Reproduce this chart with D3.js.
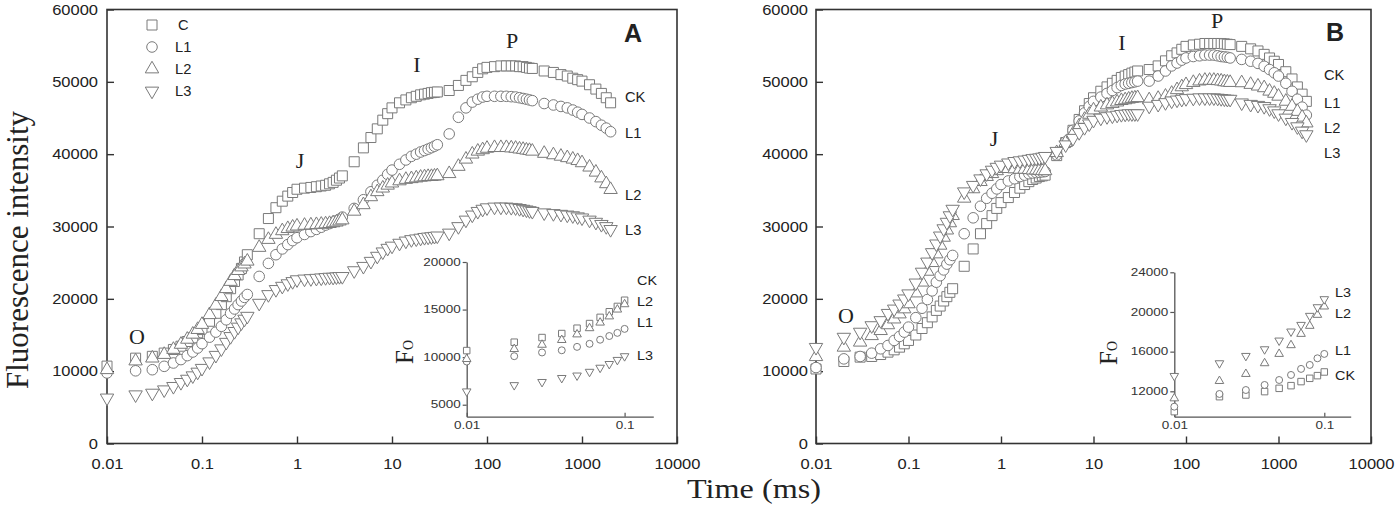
<!DOCTYPE html>
<html>
<head>
<meta charset="utf-8">
<script src="https://cdn.jsdelivr.net/npm/d3@7"></script>
<style>
  body { margin: 0; background: #fff; }
  svg { display: block; }
</style>
</head>
<body>
<div id="chart"></div>
<script>
// sampling times of the OJIP transients (ms)
const timeMs = [
  0.01, 0.02, 0.03, 0.04, 0.05, 0.06, 0.07, 0.08, 0.09, 0.1,
  0.12, 0.14, 0.16, 0.18, 0.2, 0.22, 0.24, 0.26, 0.28, 0.3,
  0.4, 0.5, 0.6, 0.7, 0.8, 0.9, 1, 1.2, 1.4, 1.6, 1.8, 2, 2.2, 2.4, 2.6, 2.8, 3,
  4, 5, 6, 7, 8, 9, 10, 12, 14, 16, 18, 20, 22, 24, 26, 28, 30,
  40, 50, 60, 70, 80, 90, 100, 120, 140, 160, 180, 200, 220, 240, 260, 280, 300,
  400, 500, 600, 700, 800, 900, 1000, 1200, 1400, 1600, 1800, 2000
];

// panel A
const ckA = [
  10700, 11800, 12050, 12500, 13000, 13450, 14100, 14600, 15300, 15750,
  16900, 18000, 19200, 20300, 21400, 22400, 23300, 24200, 25100, 26100,
  29000, 31100, 32600, 33500, 34200, 34700, 35150, 35300, 35400, 35500, 35600, 35700, 35900, 36100, 36400, 36700, 37000,
  38950, 40870, 42300, 43500, 44700, 45600, 46400, 47100, 47500, 47800, 48000, 48200, 48300, 48400, 48500, 48550, 48600,
  48800, 49500, 50200, 50700, 51300, 51800, 52000, 52100, 52200, 52200, 52200, 52200, 52100, 52100, 52000, 51900, 51850,
  51500, 51300, 51000, 50800, 50500, 50300, 50100, 49600, 49000, 48400, 47800, 47100
];
const l1A = [
  9750, 10050, 10200, 10670, 11130, 11600, 12150, 12650, 13200, 13800,
  14700, 15400, 16200, 17100, 18000, 18600, 19200, 19700, 20200, 20600,
  23100, 24900, 26100, 26900, 27500, 28050, 28450, 28900, 29300, 29600, 29900, 30200, 30400, 30600, 30800, 31000, 31300,
  32500, 33700, 34800, 35700, 36400, 37200, 37800, 38600, 39200, 39700, 40000, 40300, 40500, 40700, 40900, 41100, 41300,
  42800, 45100, 46400, 47200, 47600, 47900, 48000, 48000, 48000, 48000, 47950, 47900, 47800, 47700, 47600, 47500, 47400,
  47000, 46800, 46600, 46400, 46100, 45800, 45500, 45000, 44500, 44000, 43600, 43100
];
const l2A = [
  10200, 11400, 11800, 12300, 13000, 13700, 14400, 15100, 15750, 16450,
  17800, 19100, 20300, 21400, 22400, 23200, 23900, 24400, 24800, 25200,
  27100, 28200, 28900, 29400, 29700, 29900, 30050, 30150, 30200, 30250, 30300, 30350, 30400, 30500, 30600, 30750, 30900,
  32100, 33000, 34100, 34800, 35300, 35700, 36000, 36300, 36500, 36600, 36700, 36800, 36850, 36900, 36900, 36950, 37000,
  37300, 38300, 39300, 40000, 40400, 40600, 40800, 40900, 40900, 40900, 40850, 40800, 40700, 40650, 40550, 40500, 40400,
  40100, 39900, 39700, 39500, 39300, 39100, 38800, 38200, 37500, 36700, 35900, 35100
];
const l3A = [
  6300, 6740, 6970, 7430, 7900, 8450, 8900, 9370, 9880, 10400,
  11300, 12200, 13100, 14000, 14800, 15500, 16100, 16700, 17200, 17600,
  19400, 20600, 21300, 21750, 22100, 22400, 22650, 22750, 22800, 22850, 22900, 22950, 23000, 23000, 23050, 23100, 23100,
  23900, 24500, 25200, 25900, 26500, 27000, 27300, 27700, 28000, 28200, 28300, 28400, 28500, 28550, 28600, 28650, 28700,
  29100, 30000, 30900, 31600, 32100, 32400, 32600, 32700, 32700, 32700, 32650, 32600, 32500, 32400, 32300, 32200, 32100,
  31900, 31800, 31700, 31600, 31500, 31350, 31200, 30900, 30600, 30300, 30000, 29600
];

// panel B
const ckB = [
  10300, 11340, 11940, 12030, 12300, 12630, 12950, 13320, 13780, 14250,
  15000, 15900, 16700, 17500, 18400, 19000, 19700, 20300, 20900, 21400,
  24500, 26900, 29000, 30400, 31500, 32500, 33300, 34000, 34700, 35300, 35800, 36200, 36500, 36700, 36900, 37000, 37100,
  39800, 41600, 43300, 44800, 46000, 47000, 47800, 48700, 49300, 49800, 50200, 50600, 50800, 51000, 51200, 51350, 51500,
  51700, 52200, 52900, 53600, 54000, 54500, 54900, 55100, 55200, 55300, 55300, 55300, 55300, 55300, 55250, 55200, 55150,
  54900, 54560, 54270, 53800, 53300, 52850, 52400, 51400, 50400, 49300, 48300, 47300
];
const l1B = [
  10500, 11700, 12030, 12490, 13090, 13550, 14250, 14800, 15400, 16090,
  17400, 18700, 19900, 21100, 22300, 23200, 24000, 24800, 25400, 26000,
  29000, 31200, 32800, 33900, 34600, 35200, 35800, 36300, 36600, 36900, 37100, 37300, 37400, 37450, 37500, 37550, 37600,
  39900, 41700, 43300, 44600, 45700, 46600, 47300, 47900, 48400, 48800, 49200, 49500, 49700, 49800, 49900, 50000, 50100,
  50100, 50800, 51500, 52200, 52600, 53000, 53300, 53500, 53600, 53700, 53700, 53700, 53600, 53500, 53450, 53400, 53300,
  53100, 52850, 52550, 52150, 51700, 51250, 50800, 49800, 48700, 47600, 46500, 45400
];
const l2B = [
  12000, 13300, 14000, 14900, 15600, 16400, 17200, 17900, 18600, 19300,
  20800, 22300, 23800, 25000, 26200, 27400, 28500, 29500, 30500, 31500,
  33900, 35200, 36200, 36900, 37300, 37700, 38000, 38000, 37950, 37900, 37900, 37850, 37800, 37800, 37750, 37700, 37700,
  40200, 41600, 42800, 43900, 44800, 45500, 46100, 46500, 46800, 47000, 47200, 47400, 47500, 47600, 47700, 47750, 47800,
  47500, 47700, 48000, 48400, 48900, 49300, 49600, 49900, 50100, 50200, 50200, 50200, 50150, 50100, 50000, 49950, 49900,
  49860, 49630, 49400, 49170, 48700, 48400, 48000, 47300, 46600, 45900, 45100, 44300
];
const l3B = [
  13300, 14700, 15400, 16300, 17000, 18000, 18600, 19300, 20000, 20700,
  22200, 23700, 25100, 26400, 27600, 28700, 29700, 30600, 31500, 32400,
  34800, 35700, 36600, 37300, 37800, 38200, 38500, 38800, 39000, 39100, 39200, 39300, 39400, 39450, 39500, 39600, 39700,
  40400, 41300, 42200, 43000, 43700, 44200, 44700, 45000, 45200, 45300, 45400, 45500, 45550, 45600, 45600, 45600, 45600,
  46650, 46900, 47140, 47370, 47500, 47600, 47700, 47750, 47800, 47800, 47800, 47800, 47750, 47700, 47650, 47600, 47600,
  47100, 46900, 46760, 46600, 46300, 46000, 45600, 45000, 44400, 43800, 43200, 42700
];

// insets: Fo over the first 0.1 ms
const foTime = [0.01, 0.02, 0.03, 0.04, 0.05, 0.06, 0.07, 0.08, 0.09, 0.1];
const foCkA = [10690, 11570, 12060, 12480, 13040, 13530, 14180, 14770, 15330, 15980];
const foL1A = [9540, 10100, 10490, 10720, 11080, 11400, 11830, 12220, 12550, 12970];
const foL2A = [9800, 10850, 11300, 11800, 12390, 13040, 13630, 14280, 15000, 15560];
const foL3A = [6400, 7060, 7390, 7810, 8070, 8460, 8890, 9280, 9710, 10100];
const foCkB = [9950, 11460, 11630, 11970, 12300, 12570, 12980, 13310, 13580, 13950];
const foL1B = [10450, 11730, 12130, 12640, 13140, 13650, 14260, 14660, 15330, 15770];
const foL2B = [11290, 13040, 13750, 14830, 15770, 16650, 17790, 18600, 19710, 20550];
const foL3B = [13550, 14830, 15570, 16240, 17120, 18030, 18700, 19610, 20480, 21290];

// ticks and labels
const xTickValues = [0.01, 0.1, 1, 10, 100, 1000, 10000];
const yTickValues = [0, 10000, 20000, 30000, 40000, 50000, 60000];
const foXTicks = [0.01, 0.1];
const foYTicksA = [5000, 10000, 15000, 20000];
const foYTicksB = [12000, 16000, 20000, 24000];
const legendNames = ['C', 'L1', 'L2', 'L3'];
const seriesNames = ['CK', 'L1', 'L2', 'L3'];
const phaseNames = ['O', 'J', 'I', 'P'];

let width = 1395;
let height = 510;
let plotTop = 9.5;
let plotBottom = 443.5;
let sans = "'Liberation Sans', Arial, sans-serif";
let serif = "'Liberation Serif', 'Times New Roman', serif";
let ink = '#222';
let frameColor = '#333';
let markerStroke = '#7a7a7a';

let symbolTypes = [d3.symbolSquare, d3.symbolCircle, d3.symbolTriangle, d3.symbolTriangle];
let symbolFlip = [false, false, false, true];
let mainSizes = [100, 88, 78, 78];
let insetSizes = [42, 38, 32, 32];

let svg = d3.select('#chart')
  .append('svg')
  .attr('width', width)
  .attr('height', height);

// text with a slight horizontal stretch, like the scanned figure
let addText = (g, x, y, s, o) => {
  return g.append('text')
    .attr('transform', `translate(${x},${y}) scale(${o.sx || 1},1)`)
    .attr('text-anchor', o.anchor || 'start')
    .style('font-family', o.font || sans)
    .style('font-size', o.size + 'px')
    .style('font-weight', o.weight || 'normal')
    .style('fill', ink)
    .text(s);
};

// moves the x that d3.axis puts on tick labels into a transform, so that
// the stretch keeps the anchor in place
let stretchLabels = (sel, sx) => {
  sel.each(function() {
    let t = d3.select(this);
    let x0 = +t.attr('x') || 0;
    t.attr('x', 0).attr('transform', `translate(${x0},0) scale(${sx},1)`);
  });
};

let drawMarkers = (g, xs, ys, times, values, k, sizes) => {
  g.append('g')
    .selectAll('path')
    .data(times.map((t, i) => [t, values[i]]))
    .enter()
    .append('path')
    .attr('d', d3.symbol().type(symbolTypes[k]).size(sizes[k]))
    .attr('transform', d => `translate(${xs(d[0])},${ys(d[1])})` + (symbolFlip[k] ? ' rotate(180)' : ''))
    .attr('fill', '#fff')
    .attr('stroke', markerStroke)
    .attr('stroke-width', 1);
};

let drawPanel = p => {
  let g = svg.append('g');
  let x = d3.scaleLog().domain([0.01, 10000]).range([p.left, p.right]);
  let y = d3.scaleLinear().domain([0, 60000]).range([plotBottom, plotTop]);

  // axes with inward ticks
  let xAxis = d3.axisBottom(x)
    .tickValues(xTickValues)
    .tickFormat(d => String(d))
    .tickSizeInner(-7)
    .tickSizeOuter(0)
    .tickPadding(15);
  let yAxis = d3.axisLeft(y)
    .tickValues(yTickValues)
    .tickFormat(d => String(d))
    .tickSizeInner(-7)
    .tickSizeOuter(0)
    .tickPadding(p.labelGap);

  [g.append('g').attr('transform', `translate(0,${plotBottom})`).call(xAxis),
   g.append('g').attr('transform', `translate(${p.left},0)`).call(yAxis)]
    .forEach(a => {
      a.select('.domain').remove();
      a.attr('font-family', sans).attr('font-size', 15);
      a.selectAll('.tick line').attr('stroke', frameColor).attr('stroke-width', 1.4);
      a.selectAll('.tick text').attr('fill', ink).call(stretchLabels, 1.1);
    });

  // frame
  g.append('rect')
    .attr('x', p.left)
    .attr('y', plotTop)
    .attr('width', p.right - p.left)
    .attr('height', plotBottom - plotTop)
    .attr('fill', 'none')
    .attr('stroke', frameColor)
    .attr('stroke-width', 1.6);

  // transients
  p.series.forEach((values, k) => drawMarkers(g, x, y, timeMs, values, k, mainSizes));

  // phase letters
  phaseNames.forEach((s, i) => addText(g, p.phasePos[i][0], p.phasePos[i][1], s,
    { font: serif, size: 22, anchor: 'middle' }));

  // panel letter
  addText(g, p.letterPos[0], p.letterPos[1], p.name, { size: 25, weight: 'bold', anchor: 'middle' });

  // series labels on the right
  seriesNames.forEach((s, i) => addText(g, p.seriesLabelX, p.seriesLabelY[i], s, { size: 14, sx: 1.05 }));

  // inset
  let fx = d3.scaleLog().domain(p.foXDomain).range([p.insetLeft, p.insetRight]);
  let fy = d3.scaleLinear().domain(p.foYDomain).range([p.insetBottom, p.insetTop]);
  let fxAxis = d3.axisBottom(fx)
    .tickValues(foXTicks)
    .tickFormat(d => String(d))
    .tickSizeInner(-4)
    .tickSizeOuter(0)
    .tickPadding(5);
  let fyAxis = d3.axisLeft(fy)
    .tickValues(p.foYTicks)
    .tickFormat(d => String(d))
    .tickSizeInner(4)
    .tickSizeOuter(0)
    .tickPadding(2);
  [g.append('g').attr('transform', `translate(0,${p.insetBottom})`).call(fxAxis),
   g.append('g').attr('transform', `translate(${p.insetLeft},0)`).call(fyAxis)]
    .forEach(a => {
      a.attr('font-family', sans).attr('font-size', 10);
      a.select('.domain').attr('stroke', '#555').attr('stroke-width', 1.3);
      a.selectAll('.tick line').attr('stroke', '#555').attr('stroke-width', 1.2);
      a.selectAll('.tick text').attr('fill', '#333').call(stretchLabels, 1.35);
    });

  p.fo.forEach((values, k) => drawMarkers(g, fx, fy, foTime, values, k, insetSizes));

  p.foLabelOrder.forEach((k, i) => addText(g, p.foLabelX, p.foLabelY[i], seriesNames[k], { size: 12, sx: 1.2 }));

  // Fo axis title
  let fo = g.append('text')
    .attr('transform', `translate(${p.foTitle[0]},${p.foTitle[1]}) rotate(-90)`)
    .attr('text-anchor', 'middle')
    .style('font-family', serif)
    .style('fill', ink);
  fo.append('tspan').style('font-size', '25px').text('F');
  fo.append('tspan').style('font-size', '14px').text('O');
};

let panels = [
  {
    name: 'A', left: 107, right: 677, labelGap: 9,
    series: [ckA, l1A, l2A, l3A],
    phasePos: [[137, 344], [300, 168], [417, 72], [512, 48]],
    letterPos: [633, 42],
    seriesLabelX: 625, seriesLabelY: [102, 138, 200, 235],
    fo: [foCkA, foL1A, foL2A, foL3A],
    foXDomain: [0.01, 0.152], foYDomain: [3740, 20000], foYTicks: foYTicksA,
    insetLeft: 466.7, insetRight: 653.3, insetTop: 262, insetBottom: 416.7,
    foLabelX: 637, foLabelOrder: [0, 2, 1, 3], foLabelY: [285, 306, 327, 360],
    foTitle: [413, 352]
  },
  {
    name: 'B', left: 816, right: 1371, labelGap: 8,
    series: [ckB, l1B, l2B, l3B],
    phasePos: [[846, 323], [994, 146], [1122, 50], [1217, 28]],
    letterPos: [1335, 41],
    seriesLabelX: 1324, seriesLabelY: [80, 108, 133, 158],
    fo: [foCkB, foL1B, foL2B, foL3B],
    foXDomain: [0.01, 0.15], foYDomain: [9440, 24000], foYTicks: foYTicksB,
    insetLeft: 1174.3, insetRight: 1350.7, insetTop: 272.3, insetBottom: 416.7,
    foLabelX: 1335, foLabelOrder: [3, 2, 1, 0], foLabelY: [297, 318, 355, 380],
    foTitle: [1117, 353]
  }
];

panels.forEach(drawPanel);

// legend of panel A
let legend = svg.append('g');
let legendY = d3.scalePoint().domain(legendNames).range([25, 91]);
legendNames.forEach((s, k) => {
  legend.append('path')
    .attr('d', d3.symbol().type(symbolTypes[k]).size(mainSizes[k]))
    .attr('transform', `translate(152,${legendY(s)})` + (symbolFlip[k] ? ' rotate(180)' : ''))
    .attr('fill', '#fff')
    .attr('stroke', markerStroke);
  addText(legend, k === 0 ? 178 : 175, legendY(s) + 5, s, { size: 14, sx: 1.05 });
});

// axis titles
addText(svg, 754, 498, 'Time (ms)', { font: serif, size: 28, sx: 1.15, anchor: 'middle' });
svg.append('text')
  .attr('transform', 'translate(28,250) rotate(-90)')
  .attr('text-anchor', 'middle')
  .style('font-family', serif)
  .style('font-size', '31px')
  .style('fill', ink)
  .text('Fluorescence intensity');
</script>
</body>
</html>
